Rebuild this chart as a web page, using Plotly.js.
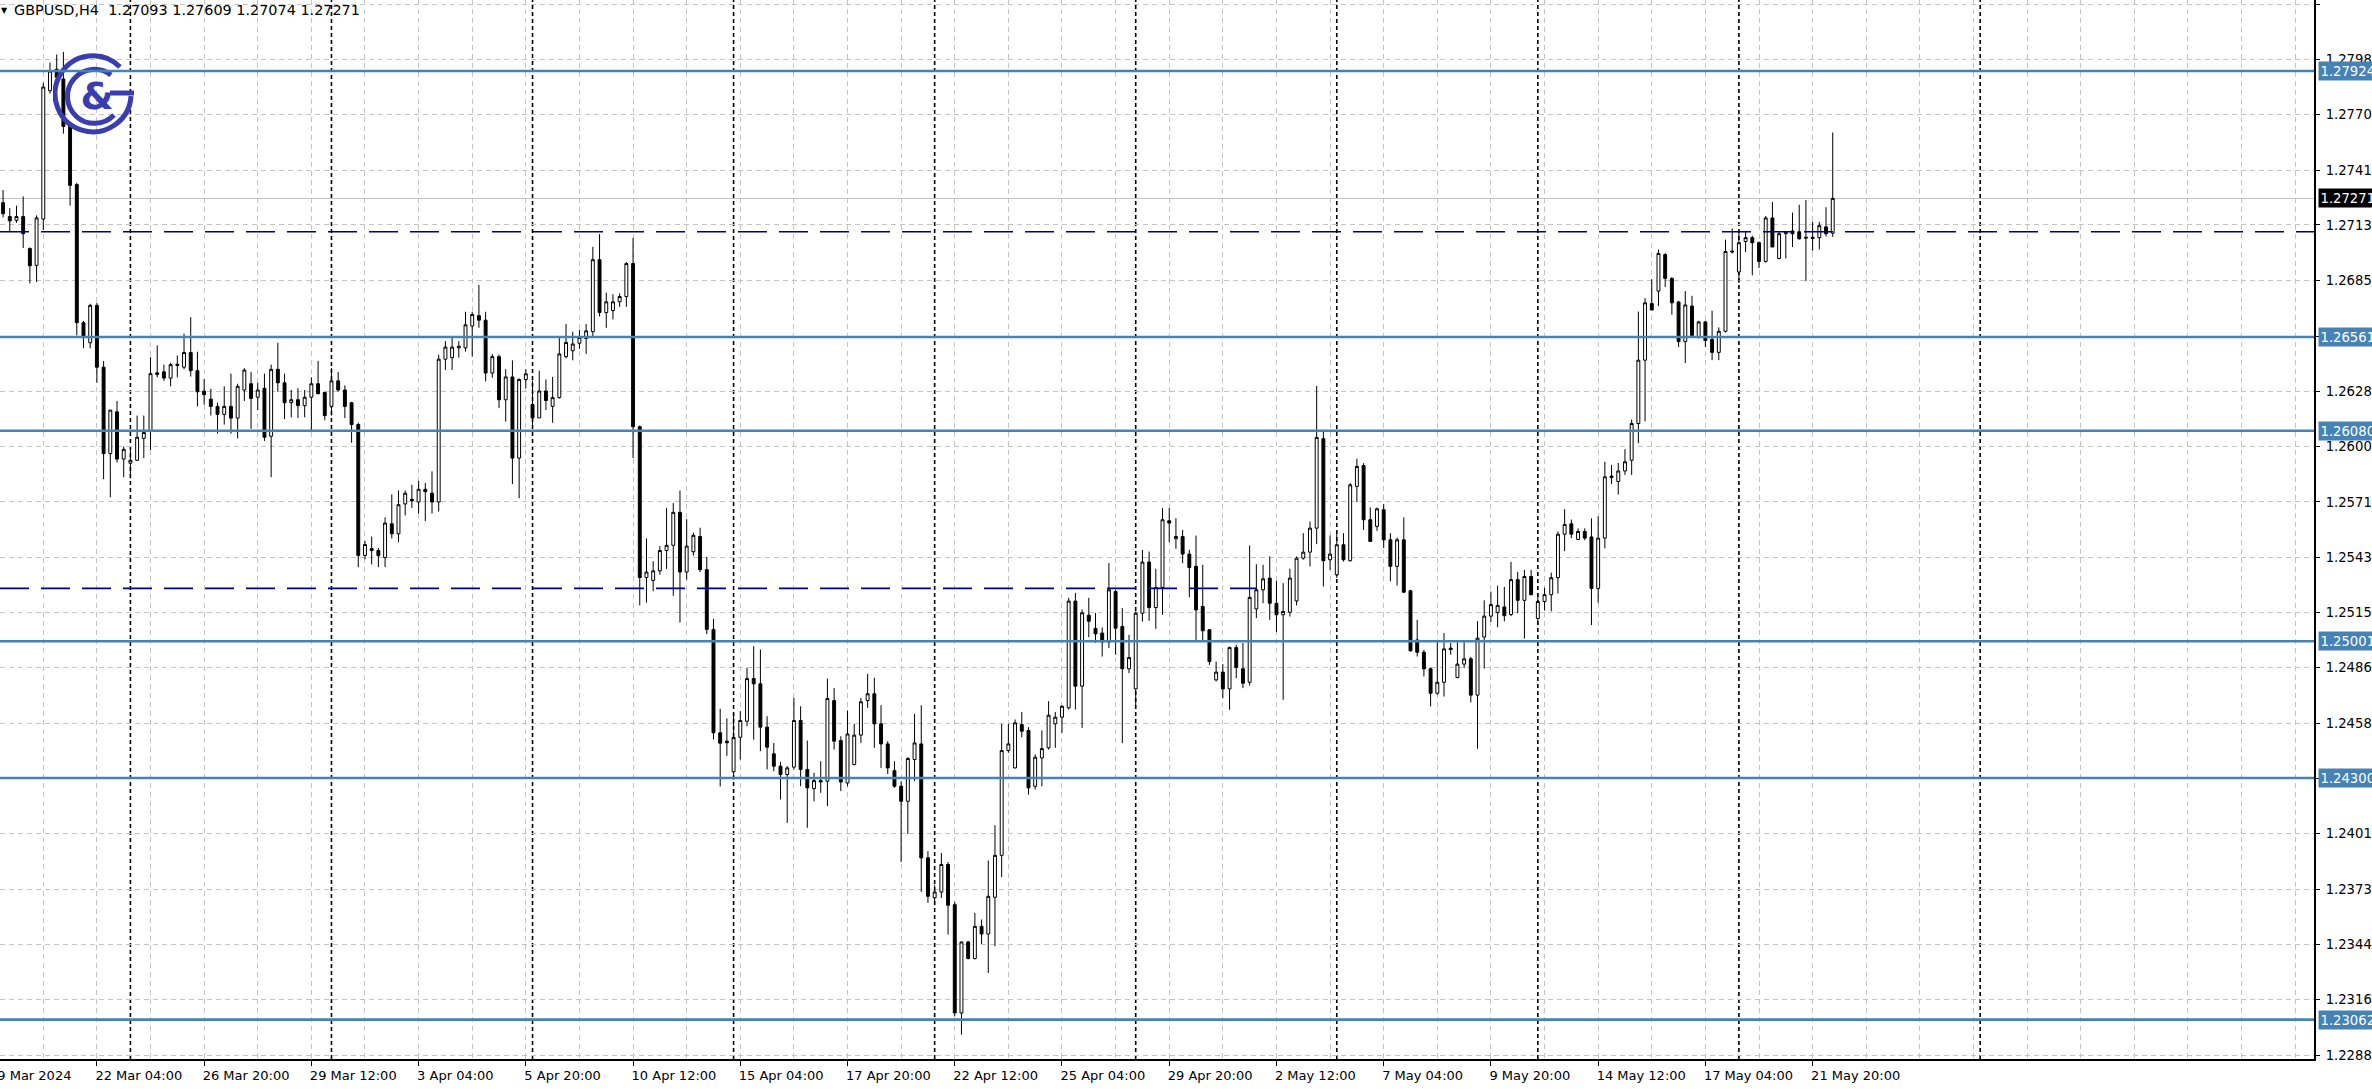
<!DOCTYPE html>
<html><head><meta charset="utf-8">
<script src="https://cdn.plot.ly/plotly-3.0.1.min.js"></script>
<style>html,body{margin:0;padding:0;background:#fff;overflow:hidden}#chart{width:2372px;height:1089px}</style>
</head><body><div id="chart"></div><script>
// ---------------- data ----------------
const symbol = "GBPUSD,H4";
const firstBarTime = "2024-03-19T20:00:00Z";   // H4 bars, Mon-Fri
const open = [
1.27249,1.27178,1.27159,1.27178,1.27014,1.26928,1.27165,1.27823,1.27933,1.27883,1.27650,1.27342,1.26634,1.26531,
1.26723,1.26406,1.25963,1.26177,1.25935,1.25914,1.25929,1.26041,1.26078,1.26377,1.26382,1.26350,1.26421,1.26406,
1.26481,1.26388,1.26283,1.26242,1.26205,1.26164,1.26205,1.26145,1.26289,1.26321,1.26252,1.26298,1.26052,1.26395,
1.26326,1.26224,1.26239,1.26209,1.26252,1.26321,1.26276,1.26205,1.26336,1.26289,1.26224,1.26112,1.25441,1.25476,
1.25466,1.25430,1.25603,1.25552,1.25705,1.25729,1.25715,1.25780,1.25760,1.25715,1.26447,1.26455,1.26505,1.26505,
1.26617,1.26670,1.26647,1.26376,1.26460,1.26239,1.26356,1.25940,1.26343,1.26215,1.26146,1.26284,1.26205,1.26250,
1.26460,1.26490,1.26529,1.26553,1.26588,1.26957,1.26686,1.26696,1.26741,1.26768,1.26937,1.26101,1.25328,1.25313,
1.25362,1.25466,1.25493,1.25662,1.25356,1.25460,1.25538,1.25368,1.25062,1.24532,1.24489,1.24332,1.24509,1.24591,
1.24810,1.24783,1.24561,1.24424,1.24361,1.24318,1.24356,1.24595,1.24344,1.24246,1.24287,1.24284,1.24697,1.24492,
1.24275,1.24369,1.24520,1.24697,1.24732,1.24578,1.24475,1.24338,1.24258,1.24181,1.24395,1.24475,1.23891,1.23686,
1.23716,1.23857,1.23651,1.23096,1.23460,1.23375,1.23540,1.23501,1.23689,1.23904,1.24441,1.24352,1.24574,1.24544,
1.24258,1.24403,1.24455,1.24578,1.24612,1.24660,1.25207,1.24771,1.25135,1.25067,1.25043,1.24997,1.25256,1.25077,
1.24860,1.24757,1.25145,1.25407,1.25174,1.25277,1.25619,1.25526,1.25538,1.25448,1.25385,1.25179,1.25060,1.24803,
1.24843,1.24757,1.24969,1.24860,1.24791,1.25167,1.25265,1.25325,1.25196,1.25137,1.25150,1.25208,1.25427,1.25458,
1.25581,1.26039,1.25419,1.25342,1.25496,1.25414,1.25795,1.25902,1.25624,1.25590,1.25675,1.25521,1.25385,1.25521,
1.25260,1.25008,1.24945,1.24860,1.24735,1.24791,1.24966,1.24815,1.24884,1.24911,1.24725,1.25023,1.25130,1.25148,
1.25177,1.25138,1.25317,1.25211,1.25333,1.25118,1.25205,1.25240,1.25327,1.25550,1.25603,1.25523,1.25564,1.25536,
1.25272,1.25530,1.25848,1.25820,1.25874,1.25929,1.26117,1.26442,1.26732,1.26796,1.26983,1.26861,1.26740,1.26537,
1.26719,1.26563,1.26638,1.26549,1.26482,1.26590,1.27001,1.26894,1.27050,1.27070,1.27044,1.26948,1.27171,1.26963,
1.27090,1.27104,1.27100,1.27072,1.27072,1.27070,1.27125,1.27093];
const high = [
1.27314,1.27221,1.27234,1.27281,1.27020,1.27184,1.27864,1.27967,1.28009,1.28022,1.27659,1.27351,1.26643,1.26731,
1.26736,1.26438,1.26186,1.26233,1.26000,1.25981,1.26158,1.26158,1.26457,1.26518,1.26419,1.26429,1.26466,1.26578,
1.26662,1.26485,1.26345,1.26295,1.26224,1.26308,1.26373,1.26321,1.26401,1.26382,1.26326,1.26373,1.26419,1.26531,
1.26373,1.26289,1.26298,1.26289,1.26354,1.26438,1.26280,1.26401,1.26382,1.26313,1.26228,1.26121,1.25515,1.25538,
1.25479,1.25636,1.25754,1.25774,1.25774,1.25803,1.25823,1.25813,1.25872,1.26470,1.26539,1.26558,1.26539,1.26690,
1.26690,1.26827,1.26690,1.26474,1.26470,1.26396,1.26441,1.26349,1.26396,1.26337,1.26388,1.26343,1.26356,1.26558,
1.26627,1.26588,1.26598,1.26627,1.27023,1.27088,1.26788,1.26780,1.26784,1.26945,1.27069,1.26107,1.25528,1.25411,
1.25489,1.25685,1.25709,1.25774,1.25627,1.25558,1.25583,1.25434,1.25116,1.24655,1.24606,1.24636,1.24643,1.24865,
1.24976,1.24959,1.24617,1.24480,1.24383,1.24361,1.24711,1.24668,1.24492,1.24327,1.24386,1.24810,1.24762,1.24514,
1.24646,1.24578,1.24711,1.24834,1.24814,1.24673,1.24489,1.24386,1.24284,1.24407,1.24629,1.24673,1.23925,1.23751,
1.23916,1.23870,1.23665,1.23460,1.23465,1.23609,1.23575,1.23877,1.24058,1.24578,1.24578,1.24600,1.24639,1.24561,
1.24421,1.24544,1.24694,1.24639,1.24673,1.25224,1.25249,1.25164,1.25224,1.25147,1.25072,1.25402,1.25265,1.25171,
1.25034,1.25154,1.25470,1.25461,1.25373,1.25684,1.25684,1.25632,1.25572,1.25470,1.25543,1.25393,1.25064,1.24897,
1.24884,1.24974,1.24983,1.24992,1.25492,1.25396,1.25393,1.25436,1.25311,1.25299,1.25373,1.25436,1.25555,1.25615,
1.26310,1.26085,1.25543,1.25555,1.25555,1.25812,1.25937,1.25914,1.25687,1.25687,1.25704,1.25555,1.25533,1.25636,
1.25265,1.25111,1.24957,1.24867,1.25000,1.25043,1.24992,1.25000,1.25000,1.24921,1.25104,1.25211,1.25256,1.25286,
1.25280,1.25408,1.25357,1.25367,1.25367,1.25248,1.25276,1.25353,1.25564,1.25678,1.25625,1.25580,1.25580,1.25631,
1.25641,1.25921,1.25905,1.25915,1.25986,1.26138,1.26691,1.26760,1.26857,1.27009,1.26990,1.26867,1.26746,1.26796,
1.26772,1.26644,1.26644,1.26695,1.26610,1.27060,1.27117,1.27104,1.27100,1.27080,1.27050,1.27181,1.27253,1.27100,
1.27104,1.27198,1.27238,1.27263,1.27151,1.27151,1.27226,1.27609];
const low = [
1.27174,1.27100,1.27146,1.27017,1.26835,1.26843,1.27109,1.27808,1.27873,1.27603,1.27234,1.26569,1.26503,1.26503,
1.26326,1.25832,1.25739,1.25917,1.25842,1.25836,1.25925,1.25940,1.25981,1.26354,1.26336,1.26308,1.26354,1.26395,
1.26358,1.26205,1.26214,1.26158,1.26065,1.26112,1.26065,1.26041,1.26233,1.26090,1.26186,1.26028,1.25842,1.26280,
1.26140,1.26149,1.26145,1.26149,1.26078,1.26268,1.26134,1.26158,1.26280,1.26145,1.26019,1.25381,1.25422,1.25395,
1.25381,1.25381,1.25528,1.25509,1.25646,1.25685,1.25656,1.25617,1.25656,1.25666,1.26392,1.26392,1.26455,1.26486,
1.26460,1.26608,1.26333,1.26352,1.26196,1.26127,1.25807,1.25734,1.26298,1.26107,1.26146,1.26186,1.26121,1.26245,
1.26451,1.26441,1.26500,1.26474,1.26564,1.26666,1.26608,1.26651,1.26715,1.26715,1.25940,1.25185,1.25199,1.25258,
1.25342,1.25372,1.25234,1.25097,1.25317,1.25440,1.25356,1.25038,1.24498,1.24257,1.24414,1.24292,1.24395,1.24566,
1.24497,1.24438,1.24344,1.24335,1.24190,1.24070,1.24344,1.24258,1.24045,1.24181,1.24224,1.24156,1.24446,1.24233,
1.24258,1.24366,1.24480,1.24660,1.24455,1.24352,1.24321,1.24250,1.23870,1.24014,1.24284,1.23716,1.23660,1.23648,
1.23686,1.23498,1.23079,1.22985,1.23370,1.23370,1.23450,1.23301,1.23438,1.23792,1.24429,1.24349,1.24509,1.24215,
1.24241,1.24258,1.24446,1.24455,1.24532,1.24651,1.24651,1.24557,1.25022,1.24993,1.24923,1.24966,1.24932,1.24479,
1.24838,1.24667,1.25102,1.25106,1.25065,1.25137,1.25509,1.25475,1.25402,1.25226,1.25008,1.25000,1.24880,1.24795,
1.24709,1.24650,1.24812,1.24761,1.24774,1.25120,1.25196,1.25111,1.25048,1.24701,1.25128,1.25185,1.25419,1.25385,
1.25499,1.25282,1.25367,1.25325,1.25410,1.25410,1.25714,1.25572,1.25513,1.25567,1.25479,1.25308,1.25287,1.25248,
1.24949,1.24923,1.24821,1.24667,1.24727,1.24718,1.24932,1.24812,1.24863,1.24688,1.24450,1.24861,1.25100,1.25073,
1.25103,1.25130,1.25144,1.25015,1.25236,1.25084,1.25159,1.25155,1.25246,1.25463,1.25530,1.25519,1.25519,1.25084,
1.25198,1.25477,1.25807,1.25753,1.25854,1.25854,1.26016,1.26128,1.26699,1.26719,1.26817,1.26675,1.26509,1.26427,
1.26569,1.26553,1.26509,1.26442,1.26442,1.26584,1.26989,1.26837,1.26995,1.26877,1.26914,1.26942,1.27022,1.26959,
1.26963,1.27022,1.27060,1.26847,1.27003,1.27009,1.27076,1.27074];
const close = [
1.27193,1.27156,1.27178,1.27090,1.26926,1.27171,1.27842,1.27924,1.27892,1.27640,1.27338,1.26634,1.26563,1.26723,
1.26406,1.25963,1.26186,1.25935,1.25985,1.25929,1.26047,1.26071,1.26373,1.26369,1.26350,1.26419,1.26416,1.26481,
1.26388,1.26280,1.26265,1.26205,1.26164,1.26205,1.26145,1.26308,1.26391,1.26246,1.26289,1.26047,1.26395,1.26326,
1.26224,1.26239,1.26209,1.26252,1.26321,1.26270,1.26158,1.26336,1.26289,1.26205,1.26112,1.25441,1.25497,1.25466,
1.25440,1.25607,1.25552,1.25701,1.25760,1.25721,1.25780,1.25768,1.25715,1.26447,1.26509,1.26509,1.26513,1.26623,
1.26676,1.26647,1.26376,1.26460,1.26239,1.26356,1.25940,1.26343,1.26372,1.26146,1.26284,1.26235,1.26250,1.26474,
1.26533,1.26525,1.26558,1.26592,1.26957,1.26686,1.26741,1.26741,1.26768,1.26937,1.26101,1.25328,1.25356,1.25362,
1.25466,1.25493,1.25662,1.25356,1.25489,1.25544,1.25368,1.25062,1.24532,1.24479,1.24481,1.24508,1.24595,1.24810,
1.24783,1.24561,1.24458,1.24361,1.24318,1.24352,1.24595,1.24344,1.24250,1.24287,1.24280,1.24708,1.24489,1.24280,
1.24526,1.24520,1.24691,1.24732,1.24578,1.24475,1.24352,1.24258,1.24181,1.24400,1.24480,1.23891,1.23694,1.23716,
1.23857,1.23648,1.23096,1.23460,1.23375,1.23540,1.23501,1.23694,1.23904,1.24441,1.24475,1.24583,1.24540,1.24250,
1.24407,1.24451,1.24622,1.24612,1.24668,1.25207,1.24771,1.25147,1.25104,1.25039,1.24997,1.25265,1.25068,1.24860,
1.24918,1.25145,1.25407,1.25174,1.25277,1.25624,1.25607,1.25538,1.25448,1.25379,1.25162,1.25055,1.24897,1.24843,
1.24757,1.24969,1.24867,1.24786,1.25226,1.25265,1.25321,1.25196,1.25137,1.25154,1.25325,1.25427,1.25458,1.25581,
1.26046,1.25414,1.25448,1.25496,1.25419,1.25803,1.25897,1.25624,1.25513,1.25680,1.25521,1.25385,1.25521,1.25253,
1.24952,1.24945,1.24860,1.24735,1.24791,1.24962,1.24959,1.24884,1.24911,1.24725,1.25017,1.25130,1.25189,1.25185,
1.25132,1.25317,1.25211,1.25333,1.25240,1.25205,1.25240,1.25327,1.25550,1.25600,1.25550,1.25564,1.25530,1.25272,
1.25530,1.25844,1.25840,1.25874,1.25921,1.26117,1.26442,1.26736,1.26699,1.26989,1.26861,1.26736,1.26537,1.26725,
1.26569,1.26638,1.26543,1.26482,1.26590,1.26999,1.26997,1.27044,1.27070,1.27044,1.26948,1.27171,1.27022,1.27090,
1.27096,1.27090,1.27064,1.27068,1.27066,1.27131,1.27090,1.27271];

const timeTickLabels = ["22 Mar 04:00","26 Mar 20:00","29 Mar 12:00","3 Apr 04:00","5 Apr 20:00","10 Apr 12:00",
  "15 Apr 04:00","17 Apr 20:00","22 Apr 12:00","25 Apr 04:00","29 Apr 20:00","2 May 12:00","7 May 04:00",
  "9 May 20:00","14 May 12:00","17 May 04:00","21 May 20:00"];
const firstDateLabel = "19 Mar 2024";
const priceTickValues = [1.28265,1.27985,1.27700,1.27415,1.27135,1.26850,1.26565,1.26280,1.26000,1.25715,
  1.25430,1.25150,1.24865,1.24580,1.24300,1.24015,1.23730,1.23445,1.23165,1.22880];
// two labels sit fully under the level boxes in the reference and are not visible there
const priceTickLabels = ["1.28265","1.27985","1.27700","1.27415","1.27135","1.26850","","1.26280","1.26000","1.25715",
  "1.25430","1.25150","1.24865","1.24580","","1.24015","1.23730","1.23445","1.23165","1.22880"];
const levelLines = [1.27924, 1.26561, 1.26080, 1.25001, 1.24300, 1.23062];
const levelLabels = ["1.27924","1.26561","1.26080","1.25001","1.24300","1.23062"];
const dashedLevels = [1.27100, 1.25272];
const lastPrice = 1.27271;
const lastPriceLabel = "1.27271";

// ---------------- bar times (H4, weekdays) ----------------
const MONTHS = ['Jan','Feb','Mar','Apr','May','Jun','Jul','Aug','Sep','Oct','Nov','Dec'];
const barTimes = [];
{ let t = Date.parse(firstBarTime);
  while (barTimes.length < close.length) { const d = new Date(t); const wd = d.getUTCDay();
    if (wd !== 0 && wd !== 6) barTimes.push(d); t += 4*3600*1000; } }
const barLabel = d => `${d.getUTCDate()} ${MONTHS[d.getUTCMonth()]} ${String(d.getUTCHours()).padStart(2,'0')}:00`;
const xs = barTimes.map((_, k) => k);
const tickPos = timeTickLabels.map(s => barTimes.findIndex(d => barLabel(d) === s));
const separators = [];
barTimes.forEach((d, k) => { if (d.getUTCDay() === 1 && d.getUTCHours() === 0) separators.push(k); });

// ---------------- styling / layout ----------------
const PW = 2314, PH = 1059;           // plot area in px
const xRange = [-0.458, 344.81];
const yRange = [1.22860, 1.28288];
const futureSeparator = 295;          // MT5 draws one more separator in the shifted area
const lowerDashEnd = 187.1;
const gridColor = '#c4c4c4', gridDash = '5px,4px';
const steel = '#4682B4', navy = '#000080';
const axisFont = {family: 'DejaVu Sans', size: 13.2, color: '#000'};
const timeFont = {family: 'DejaVu Sans', size: 13, color: '#000'};
const pxToPaperX = px => px / PW;
const pxToPaperY = py => 1 - py / PH;

const shapes = [];
separators.concat([futureSeparator]).forEach(k => shapes.push({type:'line', xref:'x', yref:'paper', x0:k, x1:k, y0:0, y1:1,
  line:{color:'#000', width:1.6, dash:'4px,3px'}, layer:'below'}));
shapes.push({type:'line', xref:'paper', yref:'y', x0:0, x1:1, y0:lastPrice, y1:lastPrice, line:{color:'#c0c0c0', width:1}, layer:'below'});
levelLines.forEach(v => shapes.push({type:'line', xref:'paper', yref:'y', x0:0, x1:1, y0:v, y1:v, line:{color:steel, width:2.6}, layer:'above'}));
shapes.push({type:'line', xref:'paper', yref:'y', x0:0, x1:1, y0:dashedLevels[0], y1:dashedLevels[0], line:{color:navy, width:1.6, dash:'29px,12px'}, layer:'above'});
shapes.push({type:'line', xref:'x', yref:'y', x0:xRange[0], x1:lowerDashEnd, y0:dashedLevels[1], y1:dashedLevels[1], line:{color:navy, width:1.6, dash:'29px,12px'}, layer:'above'});

const annotations = [];
levelLines.forEach((v, k) => annotations.push({xref:'paper', yref:'y', x:1, y:v, xshift:4, xanchor:'left', yanchor:'middle',
  text: levelLabels[k], showarrow:false, bgcolor:steel, font:{family:axisFont.family, size:axisFont.size, color:'#fff'}, borderpad:1.5}));
annotations.push({xref:'paper', yref:'y', x:1, y:lastPrice, xshift:4, xanchor:'left', yanchor:'middle',
  text:lastPriceLabel, showarrow:false, bgcolor:'#000', font:{family:axisFont.family, size:axisFont.size, color:'#fff'}, borderpad:1.5});
annotations.push({xref:'paper', yref:'paper', x:pxToPaperX(12), y:pxToPaperY(10), xanchor:'left', yanchor:'middle', showarrow:false,
  text: symbol + '&nbsp;&nbsp;' + [open[open.length-1], high[high.length-1], low[low.length-1], close[close.length-1]].map(v => v.toFixed(5)).join(' '),
  font:{family:'DejaVu Sans', size:14.4, color:'#000'}});
annotations.push({xref:'paper', yref:'paper', x:pxToPaperX(-1), y:pxToPaperY(10), xanchor:'left', yanchor:'middle', showarrow:false,
  text:'▼', font:{family:'DejaVu Sans', size:8, color:'#000'}});
annotations.push({xref:'paper', yref:'paper', x:pxToPaperX(3.07 + 6.702*(-2) - 3), y:pxToPaperY(1075), xanchor:'left', yanchor:'middle', showarrow:false,
  text:firstDateLabel, font:timeFont});

const logoSvg = '<svg xmlns="http://www.w3.org/2000/svg" width="82" height="84" viewBox="0 0 82 84">' +
  '<g fill="none" stroke="#3a3db0" stroke-width="5">' +
  '<path d="M 67 15 A 38 38 0 1 0 78 44"/>' +
  '<path d="M 81 41 L 57 41"/>' +
  '<path d="M 58 23 A 27 27 0 1 0 61 63"/>' +
  '</g>' +
  '<text x="44" y="57" font-family="DejaVu Sans" font-weight="bold" font-size="38" fill="#3a3db0" text-anchor="middle">&amp;</text>' +
  '</svg>';

const trace = {
  type:'candlestick', x: xs, open: open, high: high, low: low, close: close,
  increasing:{line:{color:'#000', width:1}, fillcolor:'#fff'},
  decreasing:{line:{color:'#000', width:1}, fillcolor:'#000'},
  whiskerwidth: 0, hoverinfo:'skip', showlegend:false
};

const layout = {
  width: 2372, height: 1089, margin:{l:0, r:58, t:0, b:30, pad:0},
  paper_bgcolor:'#fff', plot_bgcolor:'#fff', showlegend:false, boxgap: 0.38,
  font:{family:'DejaVu Sans', size:12, color:'#000'},
  xaxis:{range:xRange, fixedrange:true, rangeslider:{visible:false}, zeroline:false,
    tickmode:'array', tickvals:tickPos, ticktext:timeTickLabels, ticks:'outside', ticklen:5, tickwidth:1, tickcolor:'#000',
    ticklabelposition:'outside right', ticklabelshift:-3, ticklabelstandoff:3, tickfont:timeFont,
    showgrid:true, gridcolor:gridColor, griddash:gridDash, gridwidth:1,
    minor:{tickmode:'linear', tick0:tickPos[0], dtick:8, showgrid:true, gridcolor:gridColor, griddash:gridDash, gridwidth:1, ticks:''},
    showline:true, linecolor:'#000', linewidth:2},
  yaxis:{range:yRange, side:'right', fixedrange:true, zeroline:false,
    tickmode:'array', tickvals:priceTickValues, ticktext:priceTickLabels, ticks:'outside', ticklen:4, tickcolor:'#000',
    tickfont:axisFont, ticklabelstandoff:3,
    showgrid:true, gridcolor:gridColor, griddash:gridDash, gridwidth:1,
    showline:true, linecolor:'#000', linewidth:2},
  shapes: shapes,
  annotations: annotations,
  images:[{source:'data:image/svg+xml;charset=utf-8,' + encodeURIComponent(logoSvg), xref:'paper', yref:'paper',
    x:pxToPaperX(53), y:pxToPaperY(52), sizex:82/PW, sizey:84/PH, xanchor:'left', yanchor:'top', sizing:'stretch', layer:'above'}]
};

Plotly.newPlot('chart', [trace], layout, {staticPlot:true, displayModeBar:false});
</script></body></html>
